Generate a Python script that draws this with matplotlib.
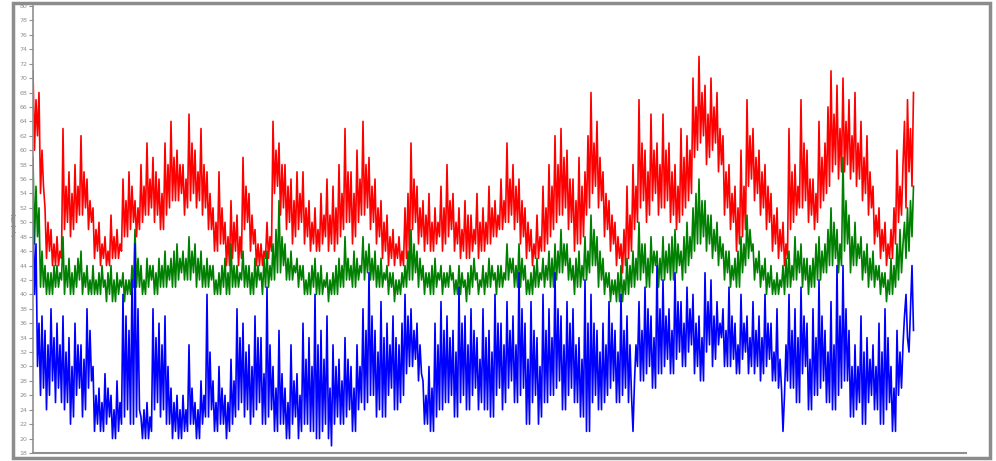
import numpy as np
import matplotlib
matplotlib.use("Agg")
import matplotlib.pyplot as plt
from matplotlib.patches import Rectangle

red = [
    71, 60, 67, 62, 68, 54, 60, 55, 52, 45, 50, 46, 49, 44, 47, 44, 48, 44, 46, 45,
    63, 49, 55, 50, 57, 48, 54, 49, 58, 50, 55, 51, 62, 51, 57, 52, 56, 49, 53, 50,
    52, 45, 49, 46, 50, 44, 47, 45, 48, 44, 46, 44, 51, 45, 48, 45, 49, 45, 47, 46,
    56, 48, 53, 48, 57, 49, 55, 50, 53, 48, 52, 49, 58, 50, 55, 51, 61, 51, 56, 52,
    59, 50, 57, 51, 56, 49, 54, 49, 61, 51, 58, 52, 64, 53, 59, 53, 60, 53, 58, 54,
    58, 51, 56, 52, 65, 53, 61, 54, 60, 52, 57, 53, 63, 51, 58, 52, 57, 49, 54, 49,
    52, 46, 50, 46, 57, 47, 52, 47, 50, 44, 48, 44, 53, 45, 50, 46, 51, 44, 48, 45,
    59, 49, 55, 50, 54, 46, 51, 47, 49, 44, 47, 44, 47, 44, 46, 45, 50, 45, 48, 46,
    64, 54, 60, 55, 61, 51, 58, 52, 58, 49, 55, 50, 56, 47, 53, 48, 57, 49, 54, 50,
    57, 47, 52, 48, 53, 46, 50, 47, 52, 46, 49, 46, 54, 47, 51, 48, 56, 46, 51, 47,
    55, 46, 52, 47, 58, 48, 54, 49, 63, 50, 57, 50, 57, 47, 54, 48, 60, 50, 56, 51,
    64, 51, 58, 52, 59, 49, 55, 50, 56, 47, 52, 48, 53, 45, 50, 46, 51, 44, 48, 45,
    49, 44, 47, 45, 48, 44, 46, 44, 52, 45, 54, 45, 61, 49, 56, 50, 55, 47, 52, 48,
    53, 46, 51, 47, 54, 46, 50, 46, 52, 47, 50, 48, 55, 46, 52, 47, 58, 48, 53, 49,
    54, 46, 50, 47, 52, 45, 49, 46, 53, 45, 51, 45, 51, 46, 49, 47, 54, 45, 50, 46,
    52, 46, 50, 47, 55, 47, 52, 48, 53, 48, 51, 49, 56, 49, 53, 50, 61, 50, 56, 51,
    58, 49, 55, 50, 56, 47, 53, 48, 52, 45, 50, 46, 49, 44, 47, 45, 51, 45, 48, 46,
    55, 46, 52, 47, 58, 48, 55, 49, 62, 50, 58, 51, 63, 51, 59, 52, 60, 49, 56, 50,
    56, 46, 53, 47, 59, 47, 55, 48, 57, 51, 62, 52, 68, 54, 61, 55, 64, 52, 59, 53,
    57, 48, 54, 49, 53, 46, 51, 47, 50, 44, 48, 45, 47, 43, 49, 44, 55, 45, 51, 46,
    58, 49, 55, 50, 67, 52, 61, 53, 60, 50, 57, 51, 65, 53, 60, 54, 61, 51, 58, 52,
    65, 52, 60, 53, 61, 50, 57, 51, 58, 49, 55, 50, 63, 51, 59, 52, 62, 53, 60, 54,
    70, 59, 66, 60, 73, 61, 68, 62, 69, 58, 65, 59, 70, 60, 66, 61, 68, 57, 63, 58,
    62, 51, 57, 52, 58, 49, 54, 50, 55, 46, 52, 47, 60, 48, 55, 49, 67, 55, 62, 56,
    63, 53, 59, 54, 60, 51, 57, 52, 58, 49, 55, 50, 54, 46, 51, 47, 52, 45, 49, 46,
    50, 44, 47, 45, 63, 49, 57, 50, 58, 51, 55, 52, 67, 52, 61, 53, 60, 50, 56, 51,
    56, 49, 54, 50, 64, 52, 59, 53, 61, 54, 66, 55, 71, 57, 65, 58, 69, 56, 63, 57,
    70, 57, 64, 58, 67, 56, 62, 57, 68, 55, 61, 56, 64, 53, 59, 54, 62, 51, 57, 52,
    55, 47, 51, 48, 52, 45, 49, 46, 50, 44, 47, 45, 49, 45, 52, 47, 60, 50, 55, 51,
    58, 64, 52, 67, 57, 63, 55, 68,
]

green = [
    59, 47, 55, 48, 52, 41, 46, 41, 44, 40, 43, 40, 43, 40, 44, 41, 44, 41, 43, 42,
    48, 40, 44, 41, 45, 40, 43, 40, 44, 41, 45, 42, 46, 40, 43, 41, 44, 40, 42, 40,
    44, 40, 42, 40, 43, 40, 44, 41, 42, 39, 43, 40, 44, 39, 42, 39, 43, 40, 42, 41,
    43, 39, 42, 40, 42, 40, 44, 41, 49, 41, 45, 41, 44, 40, 42, 40, 45, 41, 44, 42,
    44, 40, 43, 40, 45, 41, 44, 41, 46, 41, 44, 42, 45, 41, 46, 41, 47, 42, 45, 43,
    46, 42, 45, 42, 48, 42, 46, 43, 47, 41, 45, 42, 46, 41, 44, 41, 45, 41, 44, 42,
    44, 40, 42, 40, 43, 40, 44, 41, 45, 40, 43, 40, 47, 41, 44, 41, 44, 41, 43, 42,
    46, 41, 44, 41, 44, 40, 43, 40, 45, 41, 44, 42, 43, 40, 45, 41, 46, 41, 44, 42,
    47, 42, 49, 43, 53, 43, 48, 44, 47, 42, 45, 42, 46, 42, 44, 43, 45, 41, 44, 42,
    44, 40, 42, 40, 43, 40, 44, 41, 45, 40, 43, 40, 44, 40, 42, 41, 43, 39, 42, 40,
    43, 40, 44, 40, 45, 41, 44, 41, 48, 42, 45, 42, 44, 41, 46, 41, 45, 42, 44, 43,
    48, 42, 46, 43, 47, 42, 45, 42, 46, 41, 44, 41, 45, 41, 43, 42, 44, 40, 43, 41,
    43, 39, 42, 40, 42, 40, 43, 41, 44, 41, 46, 42, 49, 42, 47, 43, 46, 41, 45, 42,
    44, 40, 43, 41, 43, 40, 44, 40, 45, 41, 43, 42, 44, 40, 43, 41, 43, 41, 44, 42,
    43, 40, 42, 40, 44, 40, 43, 41, 42, 39, 43, 40, 44, 41, 45, 42, 43, 40, 42, 41,
    44, 40, 43, 41, 45, 41, 44, 42, 43, 40, 44, 41, 44, 41, 43, 42, 47, 42, 45, 43,
    45, 41, 44, 41, 47, 41, 45, 42, 44, 40, 42, 40, 43, 40, 44, 41, 45, 41, 43, 42,
    45, 41, 44, 42, 46, 41, 45, 41, 47, 42, 46, 43, 49, 43, 47, 44, 47, 42, 45, 42,
    44, 40, 45, 41, 46, 41, 44, 42, 48, 42, 46, 43, 51, 44, 49, 44, 48, 41, 46, 42,
    45, 40, 43, 41, 43, 39, 42, 40, 42, 39, 43, 39, 44, 39, 42, 40, 45, 40, 44, 41,
    46, 41, 45, 42, 50, 42, 47, 43, 47, 41, 45, 41, 48, 43, 46, 44, 46, 41, 45, 42,
    48, 42, 46, 43, 47, 42, 48, 42, 49, 43, 47, 44, 46, 42, 48, 43, 50, 44, 48, 45,
    52, 46, 54, 47, 56, 47, 53, 48, 53, 46, 51, 47, 51, 45, 49, 46, 50, 44, 48, 45,
    47, 42, 46, 43, 46, 41, 44, 42, 45, 41, 46, 41, 48, 43, 47, 44, 51, 45, 49, 46,
    47, 42, 45, 43, 46, 41, 44, 42, 45, 40, 43, 41, 44, 40, 42, 40, 43, 40, 42, 41,
    44, 40, 45, 41, 46, 41, 44, 42, 48, 42, 46, 43, 47, 41, 45, 42, 45, 40, 44, 41,
    45, 41, 47, 42, 48, 42, 46, 43, 47, 43, 49, 44, 52, 44, 50, 45, 49, 43, 47, 44,
    59, 46, 53, 47, 51, 43, 48, 44, 50, 44, 47, 45, 48, 42, 46, 43, 47, 41, 45, 42,
    46, 41, 44, 42, 44, 40, 43, 41, 43, 39, 42, 40, 45, 40, 44, 41, 47, 42, 49, 43,
    47, 50, 45, 52, 46, 53, 48, 55,
]

blue = [
    52, 40, 47, 30, 36, 26, 37, 27, 35, 24, 33, 26, 38, 28, 34, 25, 36, 27, 33, 25,
    37, 24, 32, 25, 34, 22, 30, 23, 36, 26, 33, 27, 33, 23, 31, 24, 38, 27, 35, 28,
    30, 21, 26, 22, 27, 21, 25, 21, 29, 22, 27, 23, 26, 20, 24, 20, 28, 21, 25, 22,
    40, 23, 37, 24, 35, 22, 42, 22, 47, 23, 38, 24, 23, 20, 24, 20, 25, 20, 23, 21,
    38, 24, 34, 25, 36, 23, 33, 24, 37, 22, 30, 22, 27, 20, 25, 21, 26, 20, 24, 20,
    26, 21, 24, 21, 33, 22, 27, 22, 25, 20, 24, 20, 28, 22, 26, 23, 40, 23, 32, 24,
    28, 21, 25, 21, 30, 22, 27, 22, 26, 20, 25, 21, 31, 22, 28, 23, 38, 24, 34, 25,
    36, 23, 32, 24, 33, 22, 30, 23, 37, 24, 34, 25, 34, 22, 29, 22, 41, 23, 33, 24,
    30, 21, 27, 21, 35, 22, 29, 22, 27, 20, 25, 20, 33, 22, 28, 23, 29, 20, 26, 21,
    36, 22, 31, 22, 34, 21, 30, 21, 40, 20, 33, 20, 35, 21, 31, 22, 37, 20, 27, 19,
    33, 22, 30, 23, 31, 22, 28, 22, 34, 23, 31, 24, 30, 21, 27, 21, 33, 24, 30, 25,
    38, 24, 35, 25, 43, 26, 37, 26, 35, 23, 32, 24, 39, 23, 34, 23, 36, 26, 33, 27,
    37, 24, 34, 24, 33, 25, 36, 26, 40, 29, 37, 30, 38, 30, 35, 31, 36, 28, 33, 29,
    28, 22, 26, 22, 30, 21, 27, 21, 36, 23, 33, 24, 39, 24, 35, 25, 37, 25, 34, 26,
    35, 23, 32, 23, 41, 25, 36, 26, 37, 24, 33, 24, 38, 26, 35, 27, 34, 24, 31, 25,
    38, 24, 34, 24, 35, 23, 32, 23, 40, 26, 36, 27, 36, 24, 33, 25, 39, 27, 35, 28,
    37, 25, 33, 25, 43, 26, 38, 27, 36, 22, 31, 22, 39, 25, 35, 26, 34, 22, 30, 23,
    40, 25, 35, 25, 38, 26, 34, 26, 43, 27, 38, 28, 37, 24, 33, 24, 39, 26, 36, 27,
    38, 25, 33, 25, 34, 23, 31, 23, 42, 21, 36, 21, 40, 25, 36, 26, 35, 24, 32, 24,
    36, 25, 33, 26, 39, 27, 36, 28, 35, 25, 32, 25, 40, 26, 35, 27, 37, 25, 33, 26,
    21, 28, 33, 30, 39, 28, 35, 28, 41, 29, 38, 30, 37, 27, 34, 27, 44, 29, 38, 29,
    42, 30, 37, 31, 38, 29, 35, 29, 43, 31, 39, 32, 39, 30, 36, 30, 41, 32, 38, 33,
    40, 29, 36, 30, 37, 28, 34, 28, 43, 32, 39, 33, 42, 30, 37, 31, 39, 33, 36, 34,
    38, 30, 35, 30, 41, 30, 37, 31, 36, 29, 33, 29, 40, 31, 36, 32, 37, 29, 34, 30,
    39, 29, 35, 30, 37, 28, 34, 29, 40, 30, 36, 31, 36, 28, 32, 28, 38, 27, 31, 27,
    21, 26, 33, 28, 40, 27, 35, 27, 38, 25, 34, 25, 41, 29, 37, 30, 36, 24, 31, 24,
    38, 26, 34, 26, 42, 27, 37, 28, 35, 25, 32, 25, 39, 24, 33, 24, 44, 26, 37, 27,
    44, 28, 38, 28, 35, 23, 30, 23, 33, 24, 30, 25, 37, 22, 32, 22, 34, 25, 31, 26,
    33, 24, 30, 24, 36, 22, 32, 22, 38, 24, 34, 25, 30, 21, 27, 21, 35, 26, 32, 27,
    33, 37, 40, 34, 32, 38, 44, 35,
]

y_ticks = list(range(18, 81, 2))
y_label = "Lp [dB]"

W, H = 996, 461
fig = plt.figure(figsize=(W / 100, H / 100), dpi=100)
fig.patch.set_facecolor("white")

# outer grey frame
fig.patches.append(Rectangle((13 / W, 3 / H), (990 - 13) / W, (458 - 3) / H,
                             transform=fig.transFigure, fill=False,
                             edgecolor="#8c8c8c", linewidth=2.5))

ax = fig.add_axes([33 / W, 1 - 453 / H, (966 - 33) / W, (453 - 6) / H])
step_px = 1.5  # horizontal spacing of samples in pixels
for series, col in ((red, "#ff0000"), (green, "#008000"), (blue, "#0000ff")):
    ax.plot(np.arange(len(series)), series, color=col, linewidth=1.2)

ax.set_xlim(0, (966 - 33) / step_px)
ax.set_ylim(18, 80)
ax.set_yticks(y_ticks)
ax.set_yticklabels([str(v) for v in y_ticks])
ax.set_xticks([])
ax.tick_params(axis="y", labelsize=4.5, colors="#909090", length=3, width=0.8, pad=1)
for s in ["top", "right"]:
    ax.spines[s].set_visible(False)
ax.spines["left"].set_color("#909090")
ax.spines["left"].set_linewidth(1.2)
ax.spines["bottom"].set_color("#909090")
ax.spines["bottom"].set_linewidth(1.5)
ax.set_ylabel(y_label, fontsize=4.5, color="#707070")
ax.yaxis.set_label_coords(-16 / 933, 0.51)

fig.savefig("out.png", dpi=100)
